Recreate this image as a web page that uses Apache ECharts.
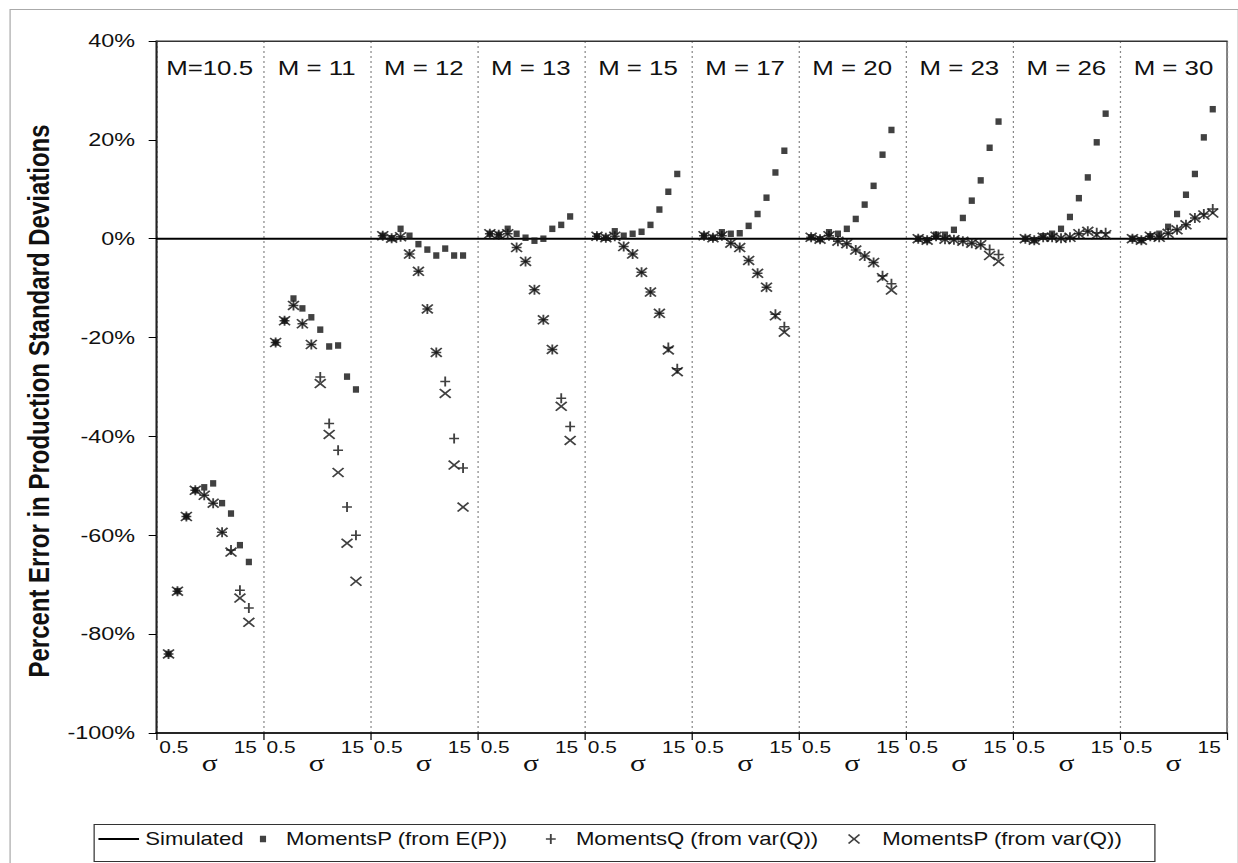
<!DOCTYPE html>
<html>
<head>
<meta charset="utf-8">
<script src="https://cdn.jsdelivr.net/npm/echarts@6.0.0/dist/echarts.min.js"></script>
<style>
html,body{margin:0;padding:0;background:#fff;overflow:hidden;width:1238px;height:863px}
#c{width:1006px;height:863px;transform:scaleX(1.2306);transform-origin:0 0}
</style>
</head>
<body>
<div id="c"></div>
<script>
// ---- data ----
const panelLabels = ['M=10.5','M = 11','M = 12','M = 13','M = 15','M = 17','M = 20','M = 23','M = 26','M = 30'];
const sigmaEnds = ['0.5','15'];
const sigmaSymbol = 'σ';
const yTicks = [-100, -80, -60, -40, -20, 0, 20, 40];
const simulated = [0, 0];

const momentsPE = [
  [-84, -71.3, -56.2, -50.9, -50.3, -49.5, -53.5, -55.6, -62, -65.4],
  [-21, -16.6, -12.1, -14.1, -15.9, -18.4, -21.8, -21.6, -27.9, -30.5],
  [0.6, 0.1, 2, 0.6, -1.1, -2.2, -3.4, -2, -3.4, -3.4],
  [1, 0.8, 2, 1, 0.2, -0.4, 0, 2, 2.8, 4.5],
  [0.5, 0.2, 1.5, 0.6, 1, 1.4, 2.8, 5.9, 9.5, 13.1],
  [0.6, 0.2, 1.3, 1, 1.1, 2.6, 5, 8.3, 13.4, 17.8],
  [0.3, -0.1, 1.3, 1, 2, 4, 6.9, 10.7, 17, 22],
  [0, -0.3, 0.8, 0.8, 1.8, 4.2, 7.7, 11.8, 18.4, 23.7],
  [0, -0.3, 0.5, 1, 2, 4.4, 8.2, 12.4, 19.5, 25.3],
  [0, -0.3, 0.5, 1, 2.4, 5, 8.9, 13.1, 20.5, 26.2]
];
const momentsQV = [
  [-84, -71.3, -56.2, -50.9, -51.9, -53.5, -59.4, -63, -71.1, -74.7],
  [-21, -16.6, -13.5, -17.2, -21.4, -28, -37.4, -42.8, -54.3, -60],
  [0.6, 0.1, 0.4, -3.1, -6.6, -14.2, -23, -28.9, -40.4, -46.4],
  [1, 0.8, 1, -1.8, -4.6, -10.3, -16.4, -22.4, -32.3, -38],
  [0.5, 0.2, 0.5, -1.6, -3.1, -6.8, -10.8, -15.1, -22, -26.3],
  [0.6, 0.2, 0.6, -0.9, -1.8, -4.4, -7, -9.8, -15.3, -17.8],
  [0.3, -0.1, 0.6, -0.5, -1, -2.3, -3.5, -4.8, -7.5, -9.1],
  [0, -0.3, 0.5, -0.1, -0.2, -0.5, -0.9, -1.2, -2.2, -3.2],
  [0, -0.3, 0.3, 0.3, 0.1, 0.3, 1, 1.5, 1.2, 1.2],
  [0, -0.3, 0.5, 0.3, 1.1, 1.8, 2.8, 4.2, 5, 6]
];
const momentsPV = [
  [-84, -71.3, -56.2, -50.9, -51.9, -53.5, -59.4, -63.4, -72.7, -77.6],
  [-21, -16.6, -13.5, -17.2, -21.4, -29.3, -39.6, -47.3, -61.6, -69.3],
  [0.6, 0.1, 0.4, -3.1, -6.6, -14.2, -23, -31.3, -45.8, -54.3],
  [1, 0.8, 1, -1.8, -4.6, -10.3, -16.4, -22.4, -33.9, -40.8],
  [0.5, 0.2, 0.5, -1.6, -3.1, -6.8, -10.8, -15.1, -22.5, -26.9],
  [0.6, 0.2, 0.6, -0.9, -1.8, -4.4, -7, -9.8, -15.6, -18.9],
  [0.3, -0.1, 0.6, -0.5, -1, -2.3, -3.5, -4.8, -7.9, -10.4],
  [0, -0.3, 0.5, -0.1, -0.2, -0.5, -0.9, -1.2, -3.4, -4.6],
  [0, -0.3, 0.3, 0.3, 0.1, 0.3, 1, 1.5, 0.8, 0.8],
  [0, -0.3, 0.5, 0.3, 1.1, 1.8, 2.8, 4.2, 4.8, 5.2]
];

// ---- layout helpers ----
const SLOTS = 12;            // x units per panel
const FIRST = 1.4;           // x offset of first point inside a panel
const XMAX = panelLabels.length * SLOTS;
function toPoints(arr) {
  const out = [];
  arr.forEach((vals, p) => vals.forEach((v, i) => out.push([p * SLOTS + FIRST + i, v])));
  return out;
}
const FONT = 'Liberation Sans';
const TXT = '#111';

const squarePath = 'path://M0,0h5v6.5h-5z';
const plusPath = 'path://M3.25,0h1.5v4.25h3.25v1.5h-3.25v4.25h-1.5v-4.25h-3.25v-1.5h3.25z';
const crossPath = 'path://M0,1.1L1.1,0L5,3.9L8.9,0L10,1.1L6.1,5L10,8.9L8.9,10L5,6.1L1.1,10L0,8.9L3.9,5Z';

const chart = echarts.init(document.getElementById('c'), null, {renderer: 'svg'});

const legendBase = {
  orient: 'horizontal', top: 830, padding: 0, selectedMode: false,
  textStyle: {fontFamily: FONT, fontSize: 18, color: TXT}
};

const option = {
  animation: false,
  backgroundColor: '#fff',
  textStyle: {fontFamily: FONT},
  grid: {left: 126.8, right: 8.9, top: 41, bottom: 130, show: true, borderColor: '#333', borderWidth: 1, backgroundColor: 'transparent'},
  xAxis: [
    { type: 'value', position: 'bottom', min: 0, max: XMAX, interval: SLOTS,
      axisLine: {show: true, onZero: false, lineStyle: {color: '#000', width: 1.5}},
      axisTick: {show: true, length: 7, lineStyle: {color: '#000', width: 1}},
      axisLabel: {show: false},
      splitLine: {show: true, lineStyle: {color: '#888', width: 1, type: [2, 3]}} },
    { type: 'value', position: 'bottom', min: 0, max: XMAX, interval: 1,
      axisLine: {show: false, onZero: false}, axisTick: {show: false}, splitLine: {show: false},
      axisLabel: {show: true, margin: 6, fontSize: 17, color: TXT, fontFamily: FONT,
        formatter: v => { const r = Math.round(v) % SLOTS; return r === 2 ? sigmaEnds[0] : (r === 10 ? sigmaEnds[1] : ''); }} },
    { type: 'value', position: 'bottom', min: 0, max: XMAX, interval: SLOTS / 2,
      axisLine: {show: false, onZero: false}, axisTick: {show: false}, splitLine: {show: false},
      axisLabel: {show: true, margin: 18, fontSize: 24, color: TXT, fontFamily: 'Liberation Serif',
        formatter: v => (Math.round(v) % SLOTS === SLOTS / 2 ? sigmaSymbol : '')} },
    { type: 'value', position: 'top', min: 0, max: XMAX, interval: SLOTS / 2,
      axisLine: {show: true, onZero: false, lineStyle: {color: '#333', width: 1}}, axisTick: {show: false}, splitLine: {show: false},
      axisLabel: {show: true, inside: true, margin: 16, fontSize: 21, color: TXT, fontFamily: FONT,
        formatter: v => { const r = Math.round(v); return r % SLOTS === SLOTS / 2 ? panelLabels[(r - SLOTS / 2) / SLOTS] : ''; }} }
  ],
  yAxis: {
    type: 'value', min: yTicks[0], max: yTicks[yTicks.length - 1], interval: 20,
    name: 'Percent Error in Production Standard Deviations',
    nameLocation: 'middle', nameGap: 79,
    nameTextStyle: {fontFamily: FONT, fontSize: 24, fontWeight: 'bold', color: TXT, padding: [0, 28, 0, 0]},
    axisLine: {show: true, onZero: false, lineStyle: {color: '#000', width: 1}},
    axisTick: {show: true, length: 6, lineStyle: {color: '#000'}},
    axisLabel: {margin: 17, fontSize: 19, color: TXT, fontFamily: FONT, formatter: '{value}%'},
    splitLine: {show: false}
  },
  legend: [
    Object.assign({}, legendBase, {left: 80, itemWidth: 33, itemHeight: 2, data: [{name: 'Simulated', icon: 'rect'}]}),
    Object.assign({}, legendBase, {left: 211.2, itemWidth: 27.6, itemHeight: 6.5, data: ['MomentsP (from E(P))']}),
    Object.assign({}, legendBase, {left: 443.6, itemWidth: 30.8, itemHeight: 10, data: ['MomentsQ (from var(Q))']}),
    Object.assign({}, legendBase, {left: 689, itemWidth: 36, itemHeight: 10, data: ['MomentsP (from var(Q))']})
  ],
  graphic: [
    {type: 'rect', left: 5.7, top: 7, shape: {width: 998, height: 855}, style: {fill: 'none', stroke: '#aaa', lineWidth: 1}, silent: true, z: -1},
    {type: 'rect', left: 74, top: 822, shape: {width: 862, height: 37}, style: {fill: 'none', stroke: '#333', lineWidth: 1}, silent: true}
  ],
  series: [
    { name: 'Simulated', type: 'line', xAxisIndex: 0, data: [[0, simulated[0]], [XMAX, simulated[1]]],
      symbol: 'none', color: '#000', lineStyle: {color: '#000', width: 2}, z: 1 },
    { name: 'MomentsP (from E(P))', type: 'scatter', xAxisIndex: 0, data: toPoints(momentsPE),
      symbol: squarePath, symbolSize: [5, 6.5], itemStyle: {color: '#111'}, z: 3 },
    { name: 'MomentsQ (from var(Q))', type: 'scatter', xAxisIndex: 0, data: toPoints(momentsQV),
      symbol: plusPath, symbolSize: [8, 10], itemStyle: {color: '#111'}, z: 4 },
    { name: 'MomentsP (from var(Q))', type: 'scatter', xAxisIndex: 0, data: toPoints(momentsPV),
      symbol: crossPath, symbolSize: [10, 10], itemStyle: {color: '#111'}, z: 5 }
  ]
};
chart.setOption(option);
</script>
</body>
</html>
